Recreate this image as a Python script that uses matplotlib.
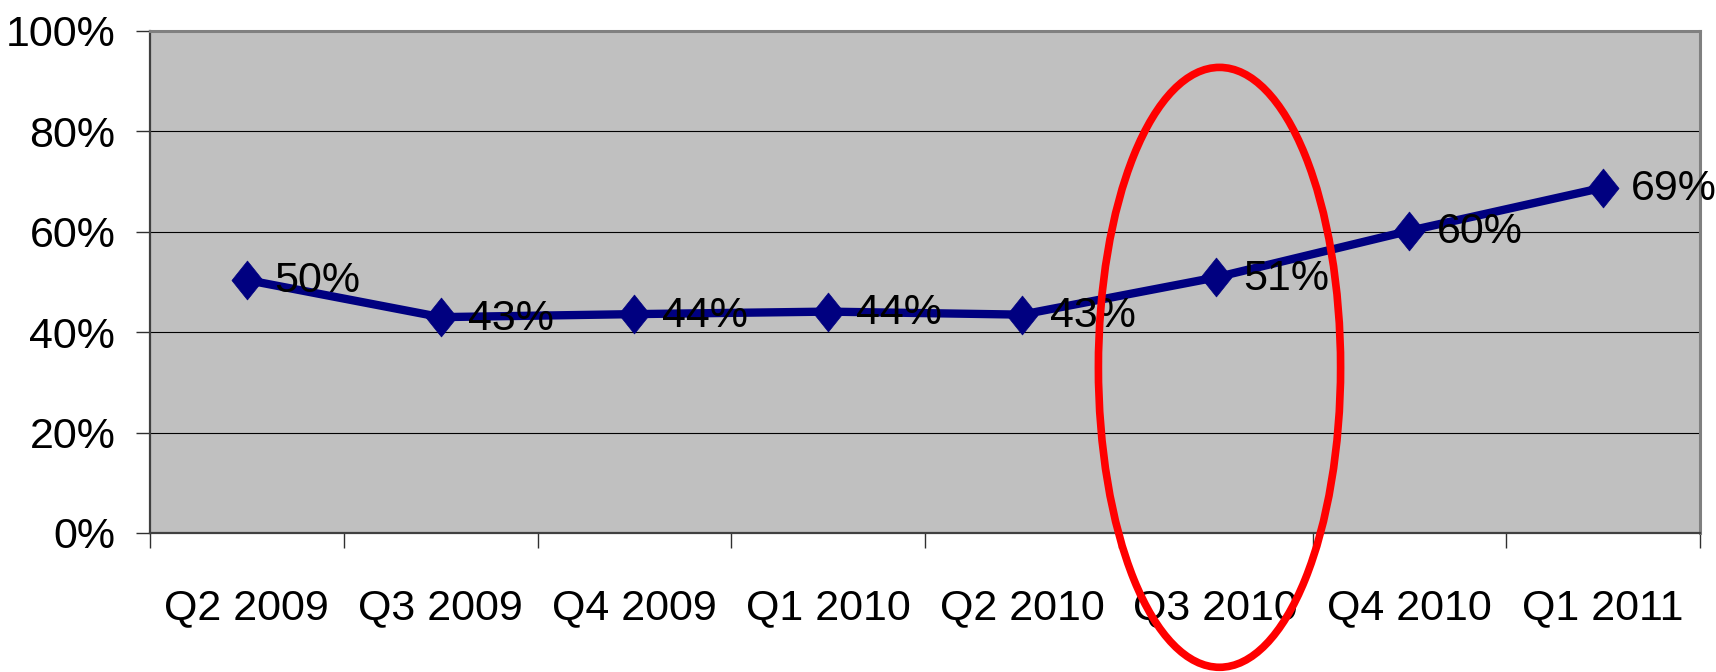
import numpy as np
import matplotlib.pyplot as plt
from matplotlib.patches import Ellipse
from matplotlib.path import Path

plt.rcParams['font.family'] = ['Liberation Sans', 'DejaVu Sans']

quarters = ['Q2 2009', 'Q3 2009', 'Q4 2009', 'Q1 2010',
            'Q2 2010', 'Q3 2010', 'Q4 2010', 'Q1 2011']
share = [50.4, 43.0, 43.6, 44.1, 43.5, 50.9, 60.2, 68.8]
point_labels = ['50%', '43%', '44%', '44%', '43%', '51%', '60%', '69%']
y_ticks = [0, 20, 40, 60, 80, 100]
y_tick_labels = ['0%', '20%', '40%', '60%', '80%', '100%']
highlight = 'Q3 2010'

fs = 31

fig = plt.figure(figsize=(17.16, 6.72), dpi=100)
ax = fig.add_axes([150 / 1716, 139 / 672, 1550 / 1716, 502 / 672])
ax.set_facecolor('#c0c0c0')

x = np.arange(len(quarters))

# diamond a bit taller than wide
diamond = Path([(0, 1), (0.8, 0), (0, -1), (-0.8, 0), (0, 1)],
               [Path.MOVETO, Path.LINETO, Path.LINETO, Path.LINETO, Path.CLOSEPOLY])
ax.plot(x, share, color='#000080', linewidth=6, marker=diamond,
        markersize=28, markerfacecolor='#000080', markeredgecolor='#000080',
        markeredgewidth=0.5, zorder=3, clip_on=False)

for xi, yi, lab in zip(x, share, point_labels):
    ax.annotate(lab, (xi, yi), xytext=(20, -1), textcoords='offset points',
                ha='left', va='center', fontsize=fs, color='black', zorder=4)

ax.set_xlim(-0.5, len(quarters) - 0.5)
ax.set_ylim(0, 100)

# category labels in the middle, ticks on the boundaries
ax.set_xticks(np.arange(-0.5, len(quarters), 1.0))
ax.set_xticklabels([])
ax.set_xticks(x, minor=True)
ax.set_xticklabels(quarters, minor=True, fontsize=fs)
ax.tick_params(axis='x', which='major', direction='out', length=11,
               width=1, color='#303030')
ax.tick_params(axis='x', which='minor', length=0, pad=40)

ax.set_yticks(y_ticks)
ax.set_yticklabels(y_tick_labels, fontsize=fs)
ax.tick_params(axis='y', direction='out', length=10, width=1,
               color='#303030', pad=15)

ax.yaxis.grid(True, color='black', linewidth=0.8)
ax.set_axisbelow(True)

for side in ['left', 'bottom']:
    ax.spines[side].set_color('#404040')
    ax.spines[side].set_linewidth(1.6)
for side in ['top', 'right']:
    ax.spines[side].set_color('#808080')
    ax.spines[side].set_linewidth(2.2)

# red ring around the highlighted quarter
hx = quarters.index(highlight)
ring = Ellipse((hx + 0.02, 33), width=1.25, height=119.5, fill=False,
               edgecolor='#ff0000', linewidth=5.5, zorder=6, clip_on=False)
ax.add_patch(ring)

fig.savefig('out.png', dpi=100)
